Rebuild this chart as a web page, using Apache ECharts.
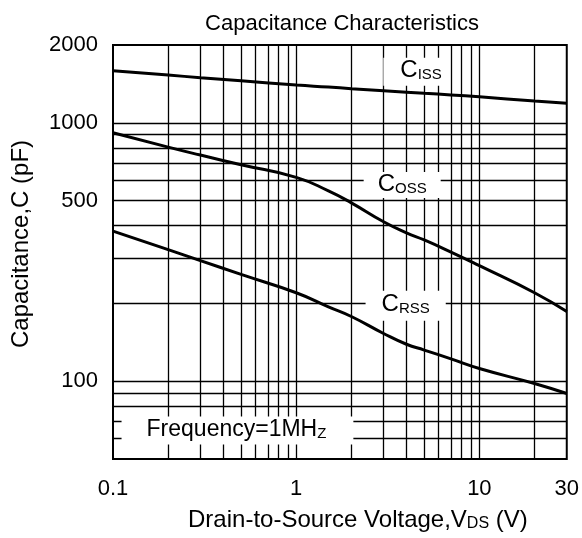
<!DOCTYPE html>
<html>
<head>
<meta charset="utf-8">
<script src="https://cdn.jsdelivr.net/npm/echarts@6/dist/echarts.min.js"></script>
<style>
  html, body { margin: 0; padding: 0; background: #fff; }
  #chart { width: 582px; height: 538px; }
</style>
</head>
<body>
<div id="chart"></div>
<script>
// drain-source voltage (V)
var vds = [0.1, 0.2, 0.3, 0.5, 1, 1.5, 2, 3, 4, 5, 7, 10, 20, 30];
// capacitance (pF)
var ciss = [1590, 1530, 1495, 1455, 1400, 1375, 1355, 1330, 1313, 1300, 1282, 1260, 1215, 1190];
var coss = [915, 805, 750, 688, 615, 545, 490, 414, 375, 352, 316, 280, 220, 186];
var crss = [381, 323, 293, 259, 220, 194, 178, 153, 139, 132, 122, 112, 98, 89.6];

var xTicks = [0.1, 1, 10, 30];
var yTicks = [100, 500, 1000, 2000];
var xGrid = [0.2, 0.3, 0.4, 0.5, 0.6, 0.7, 0.8, 0.9, 1, 2, 3, 4, 5, 6, 7, 8, 9, 10, 20];
var yGrid = [60, 70, 80, 90, 100, 200, 300, 400, 500, 600, 700, 800, 900, 1000];

// curve labels: [V, C, text]
var notes = [
  [4.43, 1577, "{b|C}{s|ISS}"],
  [3.79, 575, "{b|C}{s|OSS}"],
  [3.96, 196, "{b|C}{s|RSS}"],
  [0.478, 64.4, "{f|Frequency=1MH}{s|Z}"]
];
var notePad = [[3, 4, 3, 17], [2, 14, 2, 14], [4, 16, 4, 16], [3, 27, 3, 25]];

function pairs(ys) {
  return vds.map(function (v, i) { return [v, ys[i]]; });
}

var font = "'Liberation Sans', Arial, sans-serif";
var rich = {
  b: { fontSize: 24, fontFamily: font, color: "#000", lineHeight: 22, verticalAlign: "bottom" },
  f: { fontSize: 23, fontFamily: font, color: "#000", lineHeight: 22, verticalAlign: "bottom" },
  s: { fontSize: 15, fontFamily: font, color: "#000", lineHeight: 22, verticalAlign: "bottom", padding: [5, 0, 0, 0] }
};

var chart = echarts.init(document.getElementById("chart"));
chart.setOption({
  animation: false,
  title: {
    text: "Capacitance Characteristics",
    left: 337,
    textAlign: "center",
    top: 8,
    textStyle: { fontSize: 22, fontWeight: "normal", fontFamily: font, color: "#000" }
  },
  grid: {
    left: 113, right: 15, top: 45, bottom: 79,
    show: true, borderColor: "#000", borderWidth: 2
  },
  xAxis: {
    type: "log", logBase: 10, min: 0.1, max: 30,
    axisLine: { show: false }, axisTick: { show: false }, splitLine: { show: false },
    axisLabel: {
      customValues: xTicks,
      margin: 19, fontSize: 22, fontFamily: font, color: "#000",
      formatter: function (v) { return String(Math.round(v * 10) / 10); }
    },
    name: "{n|Drain-to-Source Voltage,V}{s|DS}{n| (V)}",
    nameLocation: "middle", nameGap: 47,
    nameTextStyle: {
      padding: [0, 0, 0, 36],
      rich: {
        n: { fontSize: 24, fontFamily: font, color: "#000", lineHeight: 26, verticalAlign: "bottom" },
        s: { fontSize: 16, fontFamily: font, color: "#000", lineHeight: 26, verticalAlign: "bottom" }
      }
    }
  },
  yAxis: {
    type: "log", logBase: 10, min: 50, max: 2000,
    axisLine: { show: false }, axisTick: { show: false }, splitLine: { show: false },
    axisLabel: {
      customValues: yTicks,
      margin: 15, fontSize: 22, fontFamily: font, color: "#000",
      formatter: function (v) { return String(Math.round(v)); }
    },
    name: "Capacitance,C (pF)",
    nameLocation: "middle", nameGap: 80,
    nameTextStyle: { fontSize: 24, fontFamily: font, color: "#000", padding: [0, 0, 0, 16] }
  },
  series: [
    {
      name: "grid", type: "line", data: [], z: 1, silent: true,
      markLine: {
        z: 1, silent: true, symbol: "none", animation: false,
        label: { show: false },
        lineStyle: { color: "#000", width: 1.3, type: "solid" },
        data: xGrid.map(function (v) { return { xAxis: v }; })
          .concat(yGrid.map(function (v) { return { yAxis: v }; }))
      }
    },
    {
      name: "notes", type: "scatter", z: 3, symbolSize: 0, silent: true,
      itemStyle: { opacity: 1 },
      data: notes.map(function (n, i) {
        return {
          value: [n[0], n[1]],
          label: {
            show: true, position: "inside", formatter: n[2],
            backgroundColor: "#fff", padding: notePad[i], rich: rich
          }
        };
      })
    },
    { name: "Ciss", type: "line", data: pairs(ciss), smooth: 0.5, showSymbol: false, z: 6,
      lineStyle: { color: "#000", width: 3 } },
    { name: "Coss", type: "line", data: pairs(coss), smooth: 0.5, showSymbol: false, z: 6,
      lineStyle: { color: "#000", width: 3 } },
    { name: "Crss", type: "line", data: pairs(crss), smooth: 0.5, showSymbol: false, z: 6,
      lineStyle: { color: "#000", width: 3 } }
  ]
});
</script>
</body>
</html>
